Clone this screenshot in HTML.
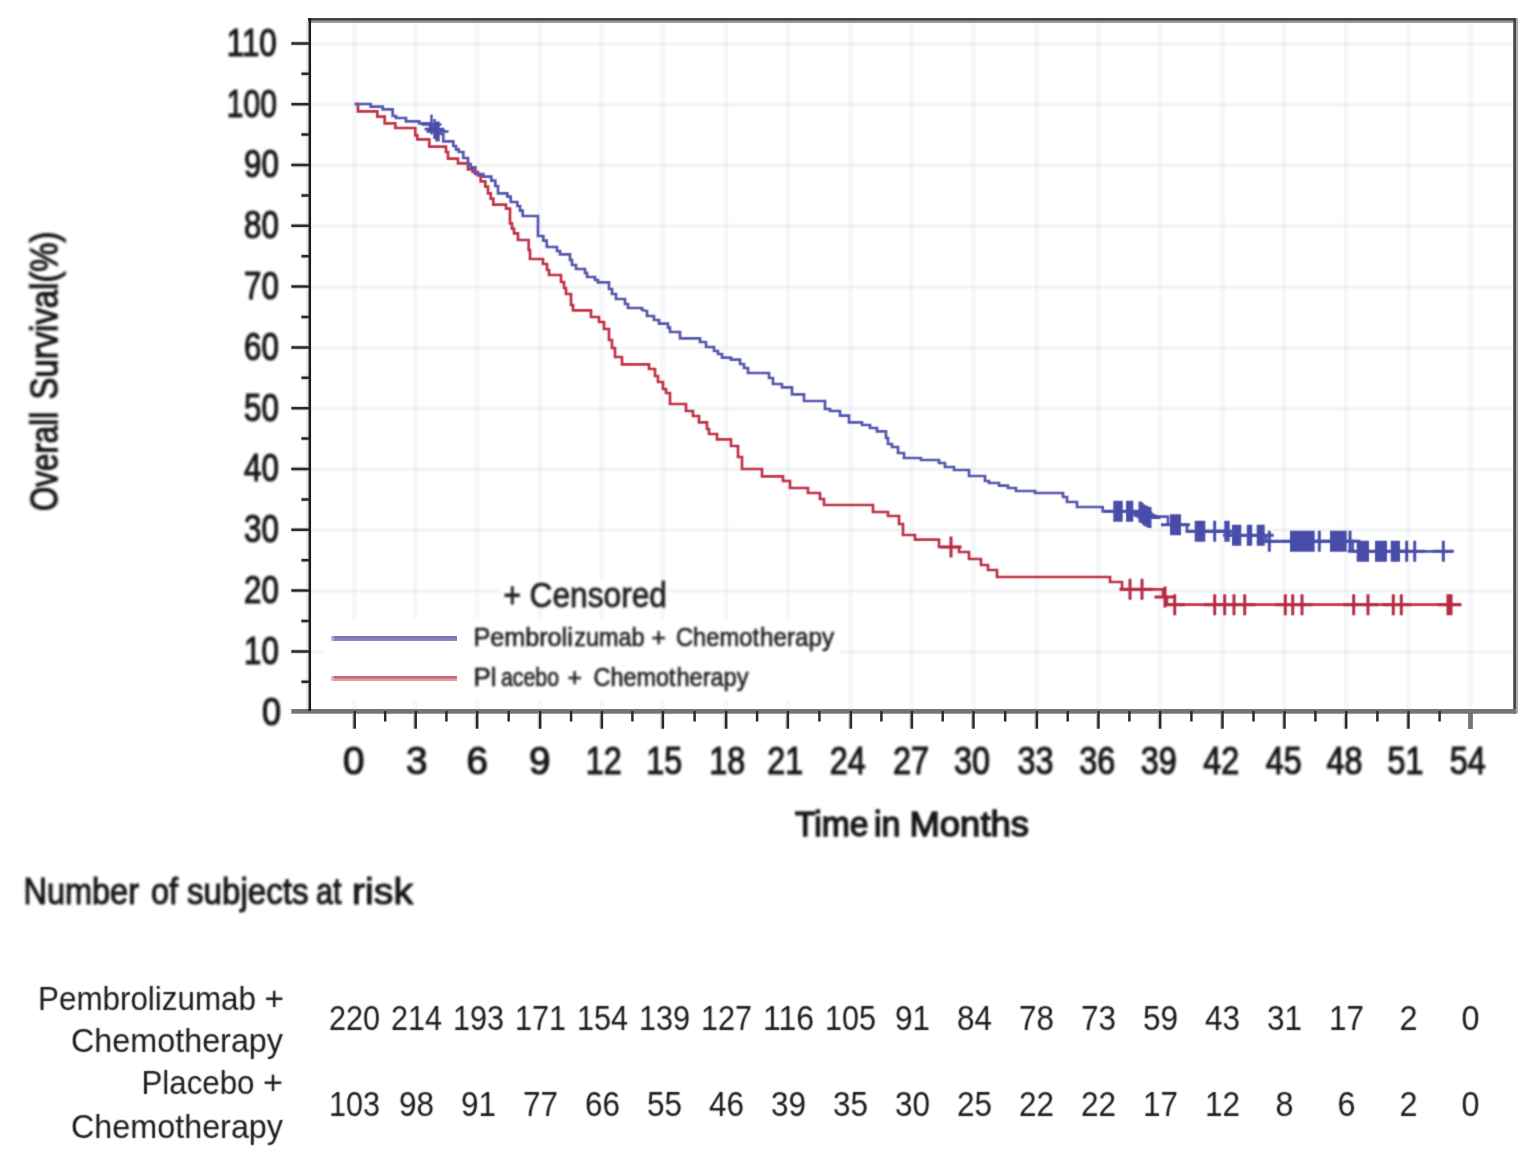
<!DOCTYPE html>
<html><head><meta charset="utf-8"><title>Overall Survival</title>
<style>html,body{margin:0;padding:0;background:#fff}body{width:1530px;height:1171px;overflow:hidden}svg{display:block}text{font-family:"Liberation Sans",sans-serif;fill:#1a1a1a}</style></head><body>
<svg width="1530" height="1171" viewBox="0 0 1530 1171">
<defs><filter id="fc" filterUnits="userSpaceOnUse" x="0" y="0" width="1530" height="1171"><feConvolveMatrix order="3" kernelMatrix="0.0277 0.1110 0.0277 0.1110 0.4452 0.1110 0.0277 0.1110 0.0277" divisor="1" edgeMode="duplicate" preserveAlpha="false"/></filter><filter id="ft" filterUnits="userSpaceOnUse" x="0" y="0" width="1530" height="1171"><feGaussianBlur stdDeviation="0.8"/></filter><filter id="fl" filterUnits="userSpaceOnUse" x="300" y="560" width="600" height="160"><feGaussianBlur stdDeviation="0.8"/></filter></defs>
<rect width="1530" height="1171" fill="#fff"/>
<path d="M310.0 651.4H1515.5M310.0 590.6H1515.5M310.0 529.8H1515.5M310.0 469.0H1515.5M310.0 408.2H1515.5M310.0 347.4H1515.5M310.0 286.6H1515.5M310.0 225.8H1515.5M310.0 165.0H1515.5M310.0 104.2H1515.5M310.0 43.4H1515.5" stroke="#fbfcfc" stroke-width="5.4" fill="none"/>
<path d="M310.0 651.8H1515.5M310.0 591.0H1515.5M310.0 530.2H1515.5M310.0 469.4H1515.5M310.0 408.6H1515.5M310.0 347.8H1515.5M310.0 287.0H1515.5M310.0 226.2H1515.5M310.0 165.4H1515.5M310.0 104.6H1515.5M310.0 43.8H1515.5" stroke="#f3f5f5" stroke-width="2.8" fill="none"/>
<path d="M354.5 20.0V711.4M415.5 20.0V711.4M477.0 20.0V711.4M540.0 20.0V711.4M601.7 20.0V711.4M662.7 20.0V711.4M726.0 20.0V711.4M787.7 20.0V711.4M850.7 20.0V711.4M911.7 20.0V711.4M973.3 20.0V711.4M1036.7 20.0V711.4M1098.3 20.0V711.4M1160.0 20.0V711.4M1222.3 20.0V711.4M1284.3 20.0V711.4M1346.0 20.0V711.4M1408.3 20.0V711.4M1470.5 20.0V711.4" stroke="#f7f8fc" stroke-width="5" fill="none" style="mix-blend-mode:multiply"/>
<rect x="324" y="618.4" width="517" height="82" fill="#fff"/>
<rect x="501" y="580" width="166.5" height="28.5" fill="#fff"/>
<g filter="url(#fc)">
<path d="M354.7 104.0 L358.0 104.0 L358.0 111.3 L377.3 111.3 L377.3 116.7 L384.7 116.7 L384.7 123.3 L395.3 123.3 L395.3 128.0 L415.3 128.0 L415.3 135.3 L417.3 135.3 L417.3 139.3 L429.3 139.3 L429.3 146.7 L446.0 146.7 L446.0 152.0 L448.0 152.0 L448.0 158.7 L458.0 158.7 L458.0 163.3 L468.0 163.3 L468.0 169.3 L472.7 169.3 L472.7 172.0 L478.0 172.0 L478.0 175.3 L480.7 175.3 L480.7 181.3 L485.3 181.3 L485.3 186.7 L488.0 186.7 L488.0 193.3 L490.7 193.3 L490.7 198.7 L493.3 198.7 L493.3 204.7 L506.0 204.7 L506.0 208.7 L510.0 208.7 L510.0 223.3 L512.0 223.3 L512.0 228.7 L514.0 228.7 L514.0 233.3 L518.0 233.3 L518.0 240.0 L528.7 240.0 L528.7 246.0 L528.7 250.0 L530.0 250.0 L530.0 259.0 L543.0 259.0 L543.0 264.0 L547.0 264.0 L547.0 270.0 L549.0 270.0 L549.0 275.0 L561.0 275.0 L561.0 282.0 L564.0 282.0 L564.0 288.0 L566.0 288.0 L566.0 294.0 L571.0 294.0 L571.0 305.0 L573.0 305.0 L573.0 310.4 L591.0 310.4 L591.0 317.0 L599.0 317.0 L599.0 322.0 L604.0 322.0 L604.0 329.0 L609.0 329.0 L609.0 340.0 L612.0 340.0 L612.0 348.0 L615.0 348.0 L615.0 357.0 L622.0 357.0 L622.0 364.4 L649.0 364.4 L649.0 369.0 L655.0 369.0 L655.0 376.0 L658.0 376.0 L658.0 382.0 L663.0 382.0 L663.0 389.0 L666.0 389.0 L666.0 393.0 L670.0 393.0 L670.0 404.0 L686.0 404.0 L686.0 411.0 L693.0 411.0 L693.0 416.0 L699.0 416.0 L699.0 422.4 L707.0 422.4 L707.0 429.0 L709.0 429.0 L709.0 434.0 L717.0 434.0 L717.0 439.4 L731.0 439.4 L731.0 446.0 L738.0 446.0 L738.0 457.0 L742.0 457.0 L742.0 469.0 L762.0 469.0 L762.0 476.4 L783.0 476.4 L783.0 481.0 L790.0 481.0 L790.0 488.0 L808.0 488.0 L808.0 493.0 L820.0 493.0 L820.0 499.0 L824.0 499.0 L824.0 505.0 L873.0 505.0 L873.0 512.0 L888.0 512.0 L888.0 516.0 L899.0 516.0 L899.0 524.0 L903.0 524.0 L903.0 535.0 L915.0 535.0 L915.0 539.6 L939.0 539.6 L939.0 547.0 L959.0 547.0 L959.0 552.0 L969.0 552.0 L969.0 559.0 L981.0 559.0 L981.0 565.0 L988.0 565.0 L988.0 570.0 L997.0 570.0 L997.0 577.0 L1090.0 577.0 L1110.0 577.0 L1110.0 582.0 L1122.0 582.0 L1122.0 589.3 L1163.0 589.3 L1163.0 597.0 L1167.0 597.0 L1167.0 604.7 L1460.7 604.7" stroke="#bf3246" stroke-width="2.7" fill="none" stroke-linejoin="miter"/>
<path d="M354.7 104.0 L370.7 104.0 L370.7 106.7 L382.7 106.7 L382.7 109.3 L392.7 109.3 L392.7 116.0 L396.0 116.0 L396.0 118.0 L406.0 118.0 L406.0 121.3 L419.3 121.3 L419.3 123.3 L430.0 123.3 L430.0 127.3 L435.3 127.3 L435.3 134.0 L443.3 134.0 L443.3 141.3 L453.3 141.3 L453.3 146.0 L456.0 146.0 L456.0 149.3 L458.7 149.3 L458.7 152.0 L463.3 152.0 L463.3 158.0 L468.0 158.0 L468.0 164.0 L470.7 164.0 L470.7 167.3 L475.3 167.3 L475.3 174.0 L483.3 174.0 L483.3 176.7 L491.3 176.7 L491.3 180.7 L495.3 180.7 L495.3 186.0 L498.0 186.0 L498.0 193.3 L507.3 193.3 L507.3 196.7 L510.7 196.7 L510.7 202.0 L517.3 202.0 L517.3 206.0 L520.0 206.0 L520.0 210.7 L522.7 210.7 L522.7 216.0 L538.0 216.0 L538.0 236.0 L543.3 236.0 L543.3 240.7 L546.7 240.7 L546.7 246.0 L547.0 246.0 L547.0 247.0 L557.0 247.0 L557.0 251.0 L560.0 251.0 L560.0 254.4 L570.0 254.4 L570.0 260.0 L572.0 260.0 L572.0 265.0 L576.0 265.0 L576.0 269.0 L585.0 269.0 L585.0 273.0 L587.0 273.0 L587.0 277.0 L595.0 277.0 L595.0 280.0 L598.0 280.0 L598.0 282.4 L609.0 282.4 L609.0 289.0 L612.0 289.0 L612.0 294.0 L616.0 294.0 L616.0 299.0 L625.0 299.0 L625.0 304.0 L628.0 304.0 L628.0 308.0 L642.0 308.0 L642.0 310.0 L647.0 311.0 L647.0 316.0 L654.0 316.0 L654.0 320.0 L659.0 320.0 L659.0 323.6 L668.0 323.6 L668.0 327.6 L670.0 327.6 L670.0 332.0 L680.0 332.0 L680.0 338.4 L700.0 338.4 L700.0 342.0 L706.0 342.0 L706.0 347.0 L714.0 347.0 L714.0 351.0 L718.0 351.0 L718.0 354.0 L722.0 354.0 L722.0 357.6 L731.0 357.6 L731.0 359.6 L740.0 359.6 L740.0 364.0 L744.0 364.0 L744.0 368.0 L748.0 368.0 L748.0 373.0 L769.0 373.0 L769.0 378.0 L773.0 378.0 L773.0 384.0 L782.0 384.0 L782.0 387.4 L792.0 387.4 L792.0 394.4 L804.0 394.4 L804.0 401.0 L825.0 401.0 L825.0 409.0 L830.0 409.0 L830.0 411.0 L840.0 411.0 L840.0 415.6 L849.0 415.6 L849.0 422.4 L862.0 422.4 L862.0 425.0 L870.0 425.0 L870.0 428.0 L877.0 428.0 L877.0 431.4 L886.0 431.4 L886.0 438.0 L888.0 438.0 L888.0 444.0 L892.0 444.0 L892.0 446.0 L892.0 447.0 L898.0 447.0 L898.0 453.0 L904.0 453.0 L904.0 458.0 L921.0 458.0 L921.0 460.0 L939.0 460.0 L939.0 463.0 L945.0 463.0 L945.0 467.0 L954.0 467.0 L954.0 470.0 L969.0 470.0 L969.0 476.0 L985.0 476.0 L985.0 481.0 L989.0 481.0 L989.0 483.0 L999.0 483.0 L999.0 485.6 L1008.0 485.6 L1008.0 488.0 L1016.0 488.0 L1016.0 491.0 L1035.0 491.0 L1035.0 493.0 L1063.0 493.0 L1063.0 497.0 L1067.0 497.0 L1067.0 502.0 L1077.0 502.0 L1077.0 507.0 L1090.0 507.0 L1102.7 507.0 L1102.7 511.3 L1138.7 511.3 L1138.7 513.0 L1143.0 513.0 L1143.0 516.7 L1168.0 516.7 L1168.0 524.7 L1187.0 524.7 L1187.0 531.3 L1230.0 531.3 L1230.0 535.3 L1266.0 535.3 L1266.0 541.3 L1352.7 541.3 L1352.7 551.3 L1452.7 551.3" stroke="#5557ae" stroke-width="2.7" fill="none" stroke-linejoin="miter"/>
<path d="M940.5 547.0h21.0M951.0 536.5v21.0M1119.5 589.3h21.0M1130.0 578.8v21.0M1131.5 589.3h21.0M1142.0 578.8v21.0M1154.5 597.0h21.0M1165.0 586.5v21.0M1164.2 604.7h21.0M1174.7 594.2v21.0M1204.2 604.7h21.0M1214.7 594.2v21.0M1214.2 604.7h21.0M1224.7 594.2v21.0M1223.5 604.7h21.0M1234.0 594.2v21.0M1234.2 604.7h21.0M1244.7 594.2v21.0M1274.8 604.7h21.0M1285.3 594.2v21.0M1282.2 604.7h21.0M1292.7 594.2v21.0M1291.5 604.7h21.0M1302.0 594.2v21.0M1343.2 604.7h21.0M1353.7 594.2v21.0M1357.5 604.7h21.0M1368.0 594.2v21.0M1382.8 604.7h21.0M1393.3 594.2v21.0M1390.8 604.7h21.0M1401.3 594.2v21.0M1437.5 604.7h21.0M1448.0 594.2v21.0M1440.5 604.7h21.0M1451.0 594.2v21.0" stroke="#b62b42" stroke-width="3.0" fill="none"/>
<path d="M1129.5 512.0h21.0M1140.0 501.5v21.0M1131.5 513.0h21.0M1142.0 502.5v21.0M1133.5 515.0h21.0M1144.0 504.5v21.0M1135.5 516.0h21.0M1146.0 505.5v21.0M1137.5 517.0h21.0M1148.0 506.5v21.0M1139.5 517.5h21.0M1150.0 507.0v21.0M1204.2 531.3h21.0M1214.7 520.8v21.0M1258.8 541.3h21.0M1269.3 530.8v21.0M1308.8 541.3h21.0M1319.3 530.8v21.0M1339.5 541.3h21.0M1350.0 530.8v21.0M1396.2 551.3h21.0M1406.7 540.8v21.0M1404.2 551.3h21.0M1414.7 540.8v21.0M1432.8 551.3h21.0M1443.3 540.8v21.0" stroke="#4a4da9" stroke-width="3.0" fill="none"/>
<path d="M421.5 124.5h20.0M431.5 114.5v20.0M424.5 129.0h20.0M434.5 119.0v20.0M426.5 131.5h20.0M436.5 121.5v20.0M428.5 131.5h20.0M438.5 121.5v20.0" stroke="#4a4da9" stroke-width="2.4" fill="none"/>
<path d="M1113.3 500.8H1122.7V521.8H1113.3ZM1126.0 500.8H1133.3V521.8H1126.0ZM1170.0 514.2H1181.0V535.2H1170.0ZM1194.7 520.8H1205.3V541.8H1194.7ZM1224.3 520.8H1229.7V541.8H1224.3ZM1232.0 524.8H1241.3V545.8H1232.0ZM1246.8 524.8H1252.2V545.8H1246.8ZM1256.7 524.8H1264.7V545.8H1256.7ZM1290.0 530.8H1314.7V551.8H1290.0ZM1330.0 530.8H1346.7V551.8H1330.0ZM1356.7 540.8H1369.0V561.8H1356.7ZM1375.0 540.8H1387.0V561.8H1375.0ZM1390.7 540.8H1400.0V561.8H1390.7Z" fill="#4a4da9"/>
<path d="M1104.3 511.3H1131.7M1117.0 511.3H1142.3M1161.0 524.7H1190.0M1185.7 531.3H1214.3M1215.3 531.3H1238.7M1223.0 535.3H1250.3M1237.8 535.3H1261.2M1247.7 535.3H1273.7M1281.0 541.3H1323.7M1321.0 541.3H1355.7M1347.7 551.3H1378.0M1366.0 551.3H1396.0M1381.7 551.3H1409.0" stroke="#4a4da9" stroke-width="3.0" fill="none"/>
</g>
<path d="M308 21.8H1518" stroke="#9a9a9a" stroke-width="2.2" fill="none"/>
<path d="M308 19.4H1517" stroke="#444" stroke-width="2.6" fill="none"/>
<path d="M1517 18.2V713.6" stroke="#aaa" stroke-width="2.0" fill="none"/>
<path d="M1514.6 18.2V713.6" stroke="#444" stroke-width="2.7" fill="none"/>
<path d="M291.3 711.4H1516" stroke="#737573" stroke-width="4.7" fill="none"/>
<path d="M309.6 18.2V711" stroke="#1c1c1c" stroke-width="2.9" fill="none"/>
<path d="M307.4 21V709" stroke="#e2e4e4" stroke-width="2.2" fill="none"/>
<path d="M291.3 651.4H308M291.3 590.6H308M291.3 529.8H308M291.3 469.0H308M291.3 408.2H308M291.3 347.4H308M291.3 286.6H308M291.3 225.8H308M291.3 165.0H308M291.3 104.2H308M291.3 43.4H308M301.4 681.8H308M301.4 621.0H308M301.4 560.2H308M301.4 499.4H308M301.4 438.6H308M301.4 377.8H308M301.4 317.0H308M301.4 256.2H308M301.4 195.4H308M301.4 134.6H308M301.4 73.8H308" stroke="#d6d6d6" stroke-width="4.8" fill="none"/>
<path d="M291.3 651.4H309M291.3 590.6H309M291.3 529.8H309M291.3 469.0H309M291.3 408.2H309M291.3 347.4H309M291.3 286.6H309M291.3 225.8H309M291.3 165.0H309M291.3 104.2H309M291.3 43.4H309M301.4 681.8H309M301.4 621.0H309M301.4 560.2H309M301.4 499.4H309M301.4 438.6H309M301.4 377.8H309M301.4 317.0H309M301.4 256.2H309M301.4 195.4H309M301.4 134.6H309M301.4 73.8H309" stroke="#2a2a2a" stroke-width="2.5" fill="none"/>
<path d="M352.9 713V728.8M413.9 713V728.8M475.4 713V728.8M538.4 713V728.8M600.1 713V728.8M661.1 713V728.8M724.4 713V728.8M786.1 713V728.8M849.1 713V728.8M910.1 713V728.8M971.7 713V728.8M1035.1 713V728.8M1096.7 713V728.8M1158.4 713V728.8M1220.7 713V728.8M1282.7 713V728.8M1344.4 713V728.8M1406.7 713V728.8" stroke="#c4c4c4" stroke-width="1.4" fill="none"/>
<path d="M354.7 711V728.8M415.7 711V728.8M477.2 711V728.8M540.2 711V728.8M601.9 711V728.8M662.9 711V728.8M726.2 711V728.8M787.9 711V728.8M850.9 711V728.8M911.9 711V728.8M973.5 711V728.8M1036.9 711V728.8M1098.5 711V728.8M1160.2 711V728.8M1222.5 711V728.8M1284.5 711V728.8M1346.2 711V728.8M1408.5 711V728.8M385.2 711V721.5M446.4 711V721.5M508.7 711V721.5M571.1 711V721.5M632.4 711V721.5M694.6 711V721.5M757.1 711V721.5M819.4 711V721.5M881.4 711V721.5M942.7 711V721.5M1005.2 711V721.5M1067.7 711V721.5M1129.4 711V721.5M1191.4 711V721.5M1253.5 711V721.5M1315.4 711V721.5M1377.4 711V721.5M1439.6 711V721.5" stroke="#2a2a2a" stroke-width="2.5" fill="none"/>
<path d="M1470.5 711V729" stroke="#737573" stroke-width="4.8" fill="none"/>
<path d="M333 638.5H457" stroke="#8c87c3" stroke-width="5" fill="none"/>
<path d="M333 637.25H457" stroke="#7878b9" stroke-width="2.5" fill="none"/>
<path d="M331 638.5H333.5" stroke="#b9b7dc" stroke-width="5" fill="none"/>
<path d="M333 678.5H457" stroke="#e19ba5" stroke-width="5" fill="none"/>
<path d="M333 677.25H457" stroke="#cd6473" stroke-width="2.5" fill="none"/>
<path d="M331 678.5H333.5" stroke="#eab9c0" stroke-width="5" fill="none"/>
<g filter="url(#ft)">
<text x="281.0" y="724.6" font-size="38.3" text-anchor="end" textLength="19.0" lengthAdjust="spacingAndGlyphs" stroke="#1a1a1a" stroke-width="1.2">0</text>
<text x="278.8" y="663.8" font-size="38.3" text-anchor="end" textLength="34.8" lengthAdjust="spacingAndGlyphs" stroke="#1a1a1a" stroke-width="1.2">10</text>
<text x="278.8" y="603.0" font-size="38.3" text-anchor="end" textLength="34.8" lengthAdjust="spacingAndGlyphs" stroke="#1a1a1a" stroke-width="1.2">20</text>
<text x="278.8" y="542.2" font-size="38.3" text-anchor="end" textLength="34.8" lengthAdjust="spacingAndGlyphs" stroke="#1a1a1a" stroke-width="1.2">30</text>
<text x="278.8" y="481.4" font-size="38.3" text-anchor="end" textLength="34.8" lengthAdjust="spacingAndGlyphs" stroke="#1a1a1a" stroke-width="1.2">40</text>
<text x="278.8" y="420.6" font-size="38.3" text-anchor="end" textLength="34.8" lengthAdjust="spacingAndGlyphs" stroke="#1a1a1a" stroke-width="1.2">50</text>
<text x="278.8" y="359.8" font-size="38.3" text-anchor="end" textLength="34.8" lengthAdjust="spacingAndGlyphs" stroke="#1a1a1a" stroke-width="1.2">60</text>
<text x="278.8" y="299.0" font-size="38.3" text-anchor="end" textLength="34.8" lengthAdjust="spacingAndGlyphs" stroke="#1a1a1a" stroke-width="1.2">70</text>
<text x="278.8" y="238.2" font-size="38.3" text-anchor="end" textLength="34.8" lengthAdjust="spacingAndGlyphs" stroke="#1a1a1a" stroke-width="1.2">80</text>
<text x="278.8" y="177.4" font-size="38.3" text-anchor="end" textLength="34.8" lengthAdjust="spacingAndGlyphs" stroke="#1a1a1a" stroke-width="1.2">90</text>
<text x="276.8" y="116.6" font-size="38.3" text-anchor="end" textLength="50.0" lengthAdjust="spacingAndGlyphs" stroke="#1a1a1a" stroke-width="1.2">100</text>
<text x="276.8" y="55.8" font-size="38.3" text-anchor="end" textLength="50.0" lengthAdjust="spacingAndGlyphs" stroke="#1a1a1a" stroke-width="1.2">110</text>
<text x="353.8" y="773.8" font-size="38.3" text-anchor="middle" textLength="21.5" lengthAdjust="spacingAndGlyphs" stroke="#1a1a1a" stroke-width="1.2">0</text>
<text x="416.8" y="773.8" font-size="38.3" text-anchor="middle" textLength="21.5" lengthAdjust="spacingAndGlyphs" stroke="#1a1a1a" stroke-width="1.2">3</text>
<text x="477.2" y="773.8" font-size="38.3" text-anchor="middle" textLength="21.5" lengthAdjust="spacingAndGlyphs" stroke="#1a1a1a" stroke-width="1.2">6</text>
<text x="539.8" y="773.8" font-size="38.3" text-anchor="middle" textLength="21.5" lengthAdjust="spacingAndGlyphs" stroke="#1a1a1a" stroke-width="1.2">9</text>
<text x="603.8" y="773.8" font-size="38.3" text-anchor="middle" textLength="36.0" lengthAdjust="spacingAndGlyphs" stroke="#1a1a1a" stroke-width="1.2">12</text>
<text x="664.2" y="773.8" font-size="38.3" text-anchor="middle" textLength="36.0" lengthAdjust="spacingAndGlyphs" stroke="#1a1a1a" stroke-width="1.2">15</text>
<text x="727.2" y="773.8" font-size="38.3" text-anchor="middle" textLength="36.0" lengthAdjust="spacingAndGlyphs" stroke="#1a1a1a" stroke-width="1.2">18</text>
<text x="785.2" y="773.8" font-size="38.3" text-anchor="middle" textLength="36.0" lengthAdjust="spacingAndGlyphs" stroke="#1a1a1a" stroke-width="1.2">21</text>
<text x="847.8" y="773.8" font-size="38.3" text-anchor="middle" textLength="36.0" lengthAdjust="spacingAndGlyphs" stroke="#1a1a1a" stroke-width="1.2">24</text>
<text x="911.0" y="773.8" font-size="38.3" text-anchor="middle" textLength="36.0" lengthAdjust="spacingAndGlyphs" stroke="#1a1a1a" stroke-width="1.2">27</text>
<text x="972.0" y="773.8" font-size="38.3" text-anchor="middle" textLength="36.0" lengthAdjust="spacingAndGlyphs" stroke="#1a1a1a" stroke-width="1.2">30</text>
<text x="1035.5" y="773.8" font-size="38.3" text-anchor="middle" textLength="36.0" lengthAdjust="spacingAndGlyphs" stroke="#1a1a1a" stroke-width="1.2">33</text>
<text x="1097.2" y="773.8" font-size="38.3" text-anchor="middle" textLength="36.0" lengthAdjust="spacingAndGlyphs" stroke="#1a1a1a" stroke-width="1.2">36</text>
<text x="1158.8" y="773.8" font-size="38.3" text-anchor="middle" textLength="36.0" lengthAdjust="spacingAndGlyphs" stroke="#1a1a1a" stroke-width="1.2">39</text>
<text x="1221.2" y="773.8" font-size="38.3" text-anchor="middle" textLength="36.0" lengthAdjust="spacingAndGlyphs" stroke="#1a1a1a" stroke-width="1.2">42</text>
<text x="1283.8" y="773.8" font-size="38.3" text-anchor="middle" textLength="36.0" lengthAdjust="spacingAndGlyphs" stroke="#1a1a1a" stroke-width="1.2">45</text>
<text x="1344.5" y="773.8" font-size="38.3" text-anchor="middle" textLength="36.0" lengthAdjust="spacingAndGlyphs" stroke="#1a1a1a" stroke-width="1.2">48</text>
<text x="1405.5" y="773.8" font-size="38.3" text-anchor="middle" textLength="36.0" lengthAdjust="spacingAndGlyphs" stroke="#1a1a1a" stroke-width="1.2">51</text>
<text x="1467.8" y="773.8" font-size="38.3" text-anchor="middle" textLength="36.0" lengthAdjust="spacingAndGlyphs" stroke="#1a1a1a" stroke-width="1.2">54</text>
<g transform="translate(57.4 0) rotate(-90)">
<text x="-511.0" y="0.0" font-size="38" textLength="99.2" lengthAdjust="spacingAndGlyphs" stroke="#1a1a1a" stroke-width="1.2">Overall</text>
<text x="-399.5" y="0.0" font-size="38" textLength="168.0" lengthAdjust="spacingAndGlyphs" stroke="#1a1a1a" stroke-width="1.2">Survival(%)</text>
</g>
<text x="795.0" y="836.3" font-size="35.8" textLength="73.5" lengthAdjust="spacingAndGlyphs" stroke="#1a1a1a" stroke-width="1.5">Time</text>
<text x="874.0" y="836.3" font-size="35.8" textLength="26.5" lengthAdjust="spacingAndGlyphs" stroke="#1a1a1a" stroke-width="1.5">in</text>
<text x="909.5" y="836.3" font-size="35.8" textLength="119.5" lengthAdjust="spacingAndGlyphs" stroke="#1a1a1a" stroke-width="1.5">Months</text>
<text x="503.5" y="606.8" font-size="35" textLength="17.5" lengthAdjust="spacingAndGlyphs" stroke="#222" stroke-width="0.8" fill="#222">+</text>
<text x="529.5" y="606.8" font-size="35" textLength="137.5" lengthAdjust="spacingAndGlyphs" stroke="#222" stroke-width="0.8" fill="#222">Censored</text>
<text x="473.5" y="645.8" font-size="25.5" textLength="99.3" lengthAdjust="spacingAndGlyphs" stroke="#1c1c1c" stroke-width="0.6" fill="#1c1c1c">Pembroli</text>
<text x="574.2" y="645.8" font-size="25.5" textLength="70.3" lengthAdjust="spacingAndGlyphs" stroke="#1c1c1c" stroke-width="0.6" fill="#1c1c1c">zumab</text>
<text x="651.5" y="645.8" font-size="25.5" textLength="14.5" lengthAdjust="spacingAndGlyphs" stroke="#1c1c1c" stroke-width="0.6" fill="#1c1c1c">+</text>
<text x="676.0" y="645.8" font-size="25.5" textLength="83.0" lengthAdjust="spacingAndGlyphs" stroke="#1c1c1c" stroke-width="0.6" fill="#1c1c1c">Chemot</text>
<text x="760.0" y="645.8" font-size="25.5" textLength="74.0" lengthAdjust="spacingAndGlyphs" stroke="#1c1c1c" stroke-width="0.6" fill="#1c1c1c">herapy</text>
<text x="473.5" y="685.6" font-size="25.5" textLength="23.0" lengthAdjust="spacingAndGlyphs" stroke="#1c1c1c" stroke-width="0.6" fill="#1c1c1c">Pl</text>
<text x="501.0" y="685.6" font-size="25.5" textLength="58.0" lengthAdjust="spacingAndGlyphs" stroke="#1c1c1c" stroke-width="0.6" fill="#1c1c1c">acebo</text>
<text x="567.5" y="685.6" font-size="25.5" textLength="14.5" lengthAdjust="spacingAndGlyphs" stroke="#1c1c1c" stroke-width="0.6" fill="#1c1c1c">+</text>
<text x="593.5" y="685.6" font-size="25.5" textLength="82.0" lengthAdjust="spacingAndGlyphs" stroke="#1c1c1c" stroke-width="0.6" fill="#1c1c1c">Chemot</text>
<text x="676.5" y="685.6" font-size="25.5" textLength="72.0" lengthAdjust="spacingAndGlyphs" stroke="#1c1c1c" stroke-width="0.6" fill="#1c1c1c">herapy</text>
<text x="23.5" y="903.5" font-size="36" textLength="115.5" lengthAdjust="spacingAndGlyphs" stroke="#1a1a1a" stroke-width="1.1">Number</text>
<text x="151.0" y="903.5" font-size="36" textLength="27.0" lengthAdjust="spacingAndGlyphs" stroke="#1a1a1a" stroke-width="1.1">of</text>
<text x="187.0" y="903.5" font-size="36" textLength="121.5" lengthAdjust="spacingAndGlyphs" stroke="#1a1a1a" stroke-width="1.1">subjects</text>
<text x="316.0" y="903.5" font-size="36" textLength="25.5" lengthAdjust="spacingAndGlyphs" stroke="#1a1a1a" stroke-width="1.1">at</text>
<text x="352.0" y="903.5" font-size="36" textLength="61.0" lengthAdjust="spacingAndGlyphs" stroke="#1a1a1a" stroke-width="1.1">risk</text>
</g>
<g filter="url(#fc)">
<text x="38.0" y="1009.5" font-size="33" textLength="218.0" lengthAdjust="spacingAndGlyphs" fill="#262626">Pembrolizumab</text>
<text x="264.5" y="1009.5" font-size="33" textLength="19.5" lengthAdjust="spacingAndGlyphs" fill="#262626">+</text>
<text x="71.0" y="1052.0" font-size="33" textLength="212.0" lengthAdjust="spacingAndGlyphs" fill="#262626">Chemotherapy</text>
<text x="141.5" y="1094.0" font-size="33" textLength="113.0" lengthAdjust="spacingAndGlyphs" fill="#262626">Placebo</text>
<text x="263.0" y="1094.0" font-size="33" textLength="20.0" lengthAdjust="spacingAndGlyphs" fill="#262626">+</text>
<text x="71.0" y="1137.5" font-size="33" textLength="212.0" lengthAdjust="spacingAndGlyphs" fill="#262626">Chemotherapy</text>
<text x="354.5" y="1030.0" font-size="35" text-anchor="middle" textLength="51.0" lengthAdjust="spacingAndGlyphs" fill="#262626">220</text>
<text x="354.5" y="1115.8" font-size="35" text-anchor="middle" textLength="51.0" lengthAdjust="spacingAndGlyphs" fill="#262626">103</text>
<text x="416.5" y="1030.0" font-size="35" text-anchor="middle" textLength="51.0" lengthAdjust="spacingAndGlyphs" fill="#262626">214</text>
<text x="416.5" y="1115.8" font-size="35" text-anchor="middle" textLength="35.0" lengthAdjust="spacingAndGlyphs" fill="#262626">98</text>
<text x="478.5" y="1030.0" font-size="35" text-anchor="middle" textLength="51.0" lengthAdjust="spacingAndGlyphs" fill="#262626">193</text>
<text x="478.5" y="1115.8" font-size="35" text-anchor="middle" textLength="35.0" lengthAdjust="spacingAndGlyphs" fill="#262626">91</text>
<text x="540.5" y="1030.0" font-size="35" text-anchor="middle" textLength="51.0" lengthAdjust="spacingAndGlyphs" fill="#262626">171</text>
<text x="540.5" y="1115.8" font-size="35" text-anchor="middle" textLength="35.0" lengthAdjust="spacingAndGlyphs" fill="#262626">77</text>
<text x="602.5" y="1030.0" font-size="35" text-anchor="middle" textLength="51.0" lengthAdjust="spacingAndGlyphs" fill="#262626">154</text>
<text x="602.5" y="1115.8" font-size="35" text-anchor="middle" textLength="35.0" lengthAdjust="spacingAndGlyphs" fill="#262626">66</text>
<text x="664.5" y="1030.0" font-size="35" text-anchor="middle" textLength="51.0" lengthAdjust="spacingAndGlyphs" fill="#262626">139</text>
<text x="664.5" y="1115.8" font-size="35" text-anchor="middle" textLength="35.0" lengthAdjust="spacingAndGlyphs" fill="#262626">55</text>
<text x="726.5" y="1030.0" font-size="35" text-anchor="middle" textLength="51.0" lengthAdjust="spacingAndGlyphs" fill="#262626">127</text>
<text x="726.5" y="1115.8" font-size="35" text-anchor="middle" textLength="35.0" lengthAdjust="spacingAndGlyphs" fill="#262626">46</text>
<text x="788.5" y="1030.0" font-size="35" text-anchor="middle" textLength="51.0" lengthAdjust="spacingAndGlyphs" fill="#262626">116</text>
<text x="788.5" y="1115.8" font-size="35" text-anchor="middle" textLength="35.0" lengthAdjust="spacingAndGlyphs" fill="#262626">39</text>
<text x="850.5" y="1030.0" font-size="35" text-anchor="middle" textLength="51.0" lengthAdjust="spacingAndGlyphs" fill="#262626">105</text>
<text x="850.5" y="1115.8" font-size="35" text-anchor="middle" textLength="35.0" lengthAdjust="spacingAndGlyphs" fill="#262626">35</text>
<text x="912.5" y="1030.0" font-size="35" text-anchor="middle" textLength="35.0" lengthAdjust="spacingAndGlyphs" fill="#262626">91</text>
<text x="912.5" y="1115.8" font-size="35" text-anchor="middle" textLength="35.0" lengthAdjust="spacingAndGlyphs" fill="#262626">30</text>
<text x="974.5" y="1030.0" font-size="35" text-anchor="middle" textLength="35.0" lengthAdjust="spacingAndGlyphs" fill="#262626">84</text>
<text x="974.5" y="1115.8" font-size="35" text-anchor="middle" textLength="35.0" lengthAdjust="spacingAndGlyphs" fill="#262626">25</text>
<text x="1036.5" y="1030.0" font-size="35" text-anchor="middle" textLength="35.0" lengthAdjust="spacingAndGlyphs" fill="#262626">78</text>
<text x="1036.5" y="1115.8" font-size="35" text-anchor="middle" textLength="35.0" lengthAdjust="spacingAndGlyphs" fill="#262626">22</text>
<text x="1098.5" y="1030.0" font-size="35" text-anchor="middle" textLength="35.0" lengthAdjust="spacingAndGlyphs" fill="#262626">73</text>
<text x="1098.5" y="1115.8" font-size="35" text-anchor="middle" textLength="35.0" lengthAdjust="spacingAndGlyphs" fill="#262626">22</text>
<text x="1160.5" y="1030.0" font-size="35" text-anchor="middle" textLength="35.0" lengthAdjust="spacingAndGlyphs" fill="#262626">59</text>
<text x="1160.5" y="1115.8" font-size="35" text-anchor="middle" textLength="35.0" lengthAdjust="spacingAndGlyphs" fill="#262626">17</text>
<text x="1222.5" y="1030.0" font-size="35" text-anchor="middle" textLength="35.0" lengthAdjust="spacingAndGlyphs" fill="#262626">43</text>
<text x="1222.5" y="1115.8" font-size="35" text-anchor="middle" textLength="35.0" lengthAdjust="spacingAndGlyphs" fill="#262626">12</text>
<text x="1284.5" y="1030.0" font-size="35" text-anchor="middle" textLength="35.0" lengthAdjust="spacingAndGlyphs" fill="#262626">31</text>
<text x="1284.5" y="1115.8" font-size="35" text-anchor="middle" textLength="18.0" lengthAdjust="spacingAndGlyphs" fill="#262626">8</text>
<text x="1346.5" y="1030.0" font-size="35" text-anchor="middle" textLength="35.0" lengthAdjust="spacingAndGlyphs" fill="#262626">17</text>
<text x="1346.5" y="1115.8" font-size="35" text-anchor="middle" textLength="18.0" lengthAdjust="spacingAndGlyphs" fill="#262626">6</text>
<text x="1408.5" y="1030.0" font-size="35" text-anchor="middle" textLength="18.0" lengthAdjust="spacingAndGlyphs" fill="#262626">2</text>
<text x="1408.5" y="1115.8" font-size="35" text-anchor="middle" textLength="18.0" lengthAdjust="spacingAndGlyphs" fill="#262626">2</text>
<text x="1470.5" y="1030.0" font-size="35" text-anchor="middle" textLength="18.0" lengthAdjust="spacingAndGlyphs" fill="#262626">0</text>
<text x="1470.5" y="1115.8" font-size="35" text-anchor="middle" textLength="18.0" lengthAdjust="spacingAndGlyphs" fill="#262626">0</text>
</g>
</svg></body></html>
